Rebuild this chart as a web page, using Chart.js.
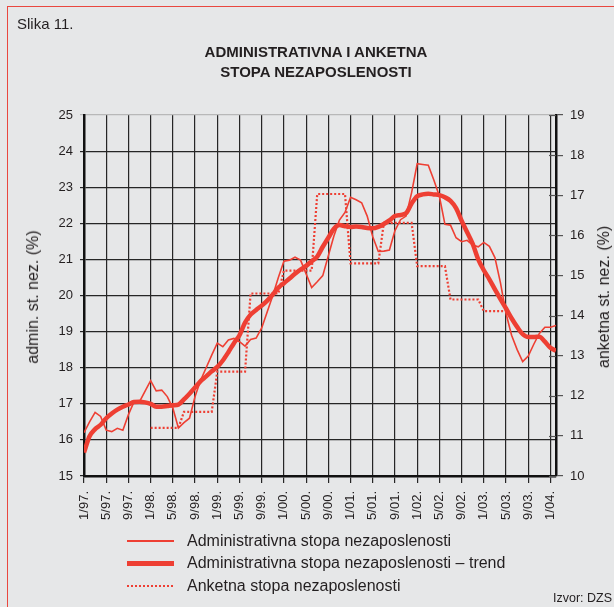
<!DOCTYPE html>
<html lang="hr">
<head>
  <meta charset="UTF-8">
  <title>Slika 11. - Administrativna i anketna stopa nezaposlenosti</title>
  <script src="https://cdn.jsdelivr.net/npm/chart.js"></script>
  <style>
    body { margin: 0; background: #e6e7e8; font-family: "Liberation Sans", Arial, sans-serif; color: #231f20; }
    #wrap { position: relative; width: 614px; height: 607px; overflow: hidden; }
    #frame { position: absolute; left: 7px; top: 6px; width: 660px; height: 660px; border: 1px solid #e9473f; }
    #chart { position: absolute; left: 0; top: 0; }
    .txt { position: absolute; white-space: nowrap; }
    .title { left: 116px; width: 400px; text-align: center; font-weight: bold; font-size: 15px; }
    .axt { font-size: 16px; transform: translate(-50%, -50%) rotate(-90deg); }
    .leg { left: 187px; font-size: 16px; line-height: 18px; }
    .sample { position: absolute; left: 127px; width: 47px; }
  </style>
</head>
<body>
  <div id="wrap">
    <div id="frame"></div>
    <canvas id="chart" width="614" height="607"></canvas>

    <div class="txt" style="left:17px; top:15px; font-size:15px;">Slika 11.</div>
    <div class="txt title" style="top:43px;">ADMINISTRATIVNA I ANKETNA</div>
    <div class="txt title" style="top:63px;">STOPA NEZAPOSLENOSTI</div>

    <div class="txt axt" style="left:33px; top:297px;">admin. st. nez. (%)</div>
    <div class="txt axt" style="left:604px; top:297px;">anketna st. nez. (%)</div>

    <div class="sample" style="top:540px; height:2px; background:#ee3f33;"></div>
    <div class="sample" style="top:561px; height:5px; background:#ee3f33;"></div>
    <div class="sample" style="top:585px; height:2px; background:repeating-linear-gradient(90deg, #ee3f33 0 2px, transparent 2px 4px);"></div>
    <div class="txt leg" style="top:532px;">Administrativna stopa nezaposlenosti</div>
    <div class="txt leg" style="top:554px;">Administrativna stopa nezaposlenosti – trend</div>
    <div class="txt leg" style="top:577px;">Anketna stopa nezaposlenosti</div>
    <div class="txt" style="left:553px; top:591px; font-size:12.5px;">Izvor: DZS</div>
  </div>

  <script>
    // x tick labels, one every 4 months starting 1/97
    const xTickLabels = ['1/97.', '5/97.', '9/97.', '1/98.', '5/98.', '9/98.', '1/99.', '5/99.', '9/99.',
      '1/00.', '5/00.', '9/00.', '1/01.', '5/01.', '9/01.', '1/02.', '5/02.', '9/02.',
      '1/03.', '5/03.', '9/03.', '1/04.'];

    // monthly values, 1/97 .. 2/04 (one row per year)
    const adminRate = [
      16.2, 16.5, 16.76, 16.65, 16.27, 16.23, 16.32, 16.27, 16.7, 17.05, 17.06, 17.35,
      17.64, 17.36, 17.38, 17.2, 16.88, 16.33, 16.48, 16.6, 17.2, 17.65, 18.0, 18.35,
      18.68, 18.58, 18.77, 18.81, 18.72, 18.6, 18.78, 18.82, 19.1, 19.55, 20.0, 20.5,
      20.95, 20.98, 21.06, 20.98, 20.6, 20.22, 20.38, 20.55, 21.1, 21.65, 22.09, 22.3,
      22.72, 22.65, 22.57, 22.2, 21.63, 21.22, 21.23, 21.26, 21.8, 22.1, 22.2, 22.85,
      23.65, 23.63, 23.61, 23.2, 22.75, 21.97, 21.95, 21.6, 21.49, 21.53, 21.4, 21.35,
      21.47, 21.36, 21.05, 20.35, 19.5, 18.9, 18.5, 18.17, 18.32, 18.65, 18.95, 19.12,
      19.12, 19.17
    ];

    const adminTrend = [
      15.65, 16.1, 16.3, 16.42, 16.6, 16.73, 16.84, 16.92, 16.98, 17.05, 17.06, 17.04,
      17.0, 16.92, 16.92, 16.94, 16.96, 16.98, 17.12, 17.28, 17.45, 17.63, 17.76, 17.9,
      18.02, 18.2, 18.43, 18.68, 18.9, 19.25, 19.47, 19.6, 19.72, 19.86, 20.03, 20.22,
      20.34, 20.47, 20.6, 20.72, 20.82, 20.95, 21.08, 21.35, 21.6, 21.85, 21.95, 21.92,
      21.9, 21.91, 21.9, 21.87, 21.86, 21.9, 21.98, 22.08, 22.2, 22.23, 22.28, 22.55,
      22.75, 22.8, 22.82, 22.8, 22.78, 22.72, 22.62, 22.42, 22.07, 21.75, 21.43, 21.0,
      20.7, 20.45, 20.17, 19.9, 19.64, 19.37, 19.13, 18.93, 18.85, 18.85, 18.86, 18.72,
      18.55, 18.47
    ];

    // survey rate (right axis), only 1/98 .. 5/03
    const surveyRate = [
      null, null, null, null, null, null, null, null, null, null, null, null,
      11.2, 11.2, 11.2, 11.2, 11.2, 11.2, 11.6, 11.6, 11.6, 11.6, 11.6, 11.6,
      12.6, 12.6, 12.6, 12.6, 12.6, 12.6, 14.55, 14.55, 14.55, 14.55, 14.55, 14.55,
      15.12, 15.12, 15.12, 15.12, 15.12, 15.12, 17.03, 17.03, 17.03, 17.03, 17.03, 17.03,
      15.3, 15.3, 15.3, 15.3, 15.3, 15.3, 16.31, 16.31, 16.31, 16.31, 16.31, 16.31,
      15.23, 15.23, 15.23, 15.23, 15.23, 15.23, 14.4, 14.4, 14.4, 14.4, 14.4, 14.4,
      14.11, 14.11, 14.11, 14.11, 14.11, null, null, null, null, null, null, null,
      null, null
    ];

    const red = '#ee3f33';
    const ink = '#231f20';
    const toXY = arr => arr.map((v, i) => ({ x: i, y: v }));

    Chart.defaults.font.family = '"Liberation Sans", Arial, sans-serif';
    Chart.defaults.color = ink;

    // small tick marks on the inner side of the right axis
    const innerTicks = {
      id: 'innerTicks',
      afterDraw(chart) {
        const s = chart.scales.y1;
        const ctx = chart.ctx;
        ctx.save();
        ctx.strokeStyle = '#555';
        ctx.lineWidth = 1.2;
        s.ticks.forEach(t => {
          const y = Math.round(s.getPixelForValue(t.value)) + 0.5;
          ctx.beginPath();
          ctx.moveTo(s.left - 7, y);
          ctx.lineTo(s.left, y);
          ctx.stroke();
        });
        ctx.restore();
      }
    };

    new Chart(document.getElementById('chart'), {
      type: 'line',
      data: {
        datasets: [
          {
            label: 'Administrativna stopa nezaposlenosti',
            data: toXY(adminRate),
            yAxisID: 'y',
            borderColor: red,
            borderWidth: 1.6,
            pointRadius: 0,
            tension: 0
          },
          {
            label: 'Administrativna stopa nezaposlenosti – trend',
            data: toXY(adminTrend),
            yAxisID: 'y',
            borderColor: red,
            borderWidth: 4.5,
            pointRadius: 0,
            cubicInterpolationMode: 'monotone'
          },
          {
            label: 'Anketna stopa nezaposlenosti',
            data: toXY(surveyRate),
            yAxisID: 'y1',
            borderColor: red,
            borderWidth: 2.2,
            borderDash: [2, 2],
            pointRadius: 0,
            tension: 0,
            spanGaps: false
          }
        ]
      },
      options: {
        responsive: false,
        animation: false,
        layout: { padding: { top: 115, left: 0, right: 0, bottom: 0 } },
        plugins: { legend: { display: false }, tooltip: { enabled: false } },
        scales: {
          x: {
            type: 'linear',
            min: 0,
            max: adminRate.length - 1,
            afterBuildTicks: s => { s.ticks = xTickLabels.map((_, i) => ({ value: i * 4 })); },
            afterFit: s => { s.height = 131; },
            ticks: {
              autoSkip: false,
              minRotation: 90,
              maxRotation: 90,
              padding: 8,
              font: { size: 13 },
              callback: v => xTickLabels[v / 4]
            },
            grid: {
              color: '#262626',
              lineWidth: 1.2,
              tickLength: 7
            },
            border: { color: '#111', width: 2.5 }
          },
          y: {
            position: 'left',
            min: 15,
            max: 25,
            afterFit: s => { s.width = 84; },
            ticks: { stepSize: 1, padding: 7, font: { size: 13 } },
            grid: {
              color: c => (c.tick && c.tick.value === 25 ? '#b8b8b8' : '#262626'),
              lineWidth: 1.2,
              tickLength: 4
            },
            border: { color: '#111', width: 2.5 }
          },
          y1: {
            position: 'right',
            min: 10,
            max: 19,
            afterFit: s => { s.width = 58; },
            ticks: { stepSize: 1, padding: 7, font: { size: 13 } },
            grid: { drawOnChartArea: false, color: '#555', lineWidth: 1.2, tickLength: 7 },
            border: { color: '#111', width: 2.5 }
          }
        }
      },
      plugins: [innerTicks]
    });
  </script>
</body>
</html>
